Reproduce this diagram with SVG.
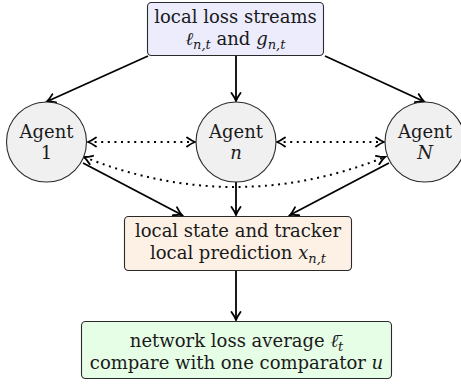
<svg xmlns="http://www.w3.org/2000/svg" width="461" height="384" viewBox="0 0 461 384">
<defs>
<style>
text{font-family:"DejaVu Serif","Liberation Serif",serif;font-size:18px;fill:#1a1a1a;text-anchor:middle}
.i{font-style:italic}
.s{font-size:13px;font-style:italic}
.box{stroke:#2a2a2a;stroke-width:1.1}
.ag{fill:#f0f0f0;stroke:#2a2a2a;stroke-width:1.1}
.ln{fill:none;stroke:#000;stroke-width:1.8}
.dt{fill:none;stroke:#000;stroke-width:2;stroke-dasharray:2 4.6}
</style>
<marker id="ah" viewBox="-9 -6 11 12" markerWidth="11" markerHeight="12" refX="0" refY="0" orient="auto-start-reverse" markerUnits="userSpaceOnUse">
<path d="M-8,-4.5 Q-3,-1 0,0 Q-3,1 -8,4.5" fill="none" stroke="#000" stroke-width="1.8" stroke-linecap="round"/>
</marker>
</defs>
<g id="connectors">
<path class="ln" d="M148,56 L47,101.5" marker-end="url(#ah)"/>
<path class="ln" d="M236,56 L236,101" marker-end="url(#ah)"/>
<path class="ln" d="M325,56 L424,101.5" marker-end="url(#ah)"/>
<path class="dt" d="M88,142 L195,142" marker-start="url(#ah)" marker-end="url(#ah)"/>
<path class="dt" d="M277,142 L384,142" marker-start="url(#ah)" marker-end="url(#ah)"/>
<path class="dt" d="M84,157 Q235,217 385,157" marker-start="url(#ah)" marker-end="url(#ah)"/>
<path class="ln" d="M83,163 L182,215" marker-end="url(#ah)"/>
<path class="ln" d="M236,182 L236,215" marker-end="url(#ah)"/>
<path class="ln" d="M389,163 L290,215" marker-end="url(#ah)"/>
<path class="ln" d="M236,271 L236,320" marker-end="url(#ah)"/>
</g>
<g id="streams">
<rect class="box" x="147.5" y="2.5" width="176" height="53" rx="4" fill="#ececfd"/>
<text x="235.5" y="23">local loss streams</text>
<text x="235.5" y="45"><tspan class="i">ℓ</tspan><tspan class="s" dy="4">n,t</tspan><tspan dy="-4"> and </tspan><tspan class="i">g</tspan><tspan class="s" dy="4">n,t</tspan></text>
</g>
<g id="agent1">
<circle class="ag" cx="46.5" cy="142" r="40"/>
<text x="46.5" y="138">Agent</text>
<text x="46.5" y="159">1</text>
</g>
<g id="agentn">
<circle class="ag" cx="236" cy="142" r="40"/>
<text x="236" y="138">Agent</text>
<text x="236" y="159" class="i">n</text>
</g>
<g id="agentN">
<circle class="ag" cx="425" cy="142" r="40"/>
<text x="425" y="138">Agent</text>
<text x="425" y="159" class="i">N</text>
</g>
<g id="tracker">
<rect class="box" x="124.5" y="216.5" width="227" height="54" rx="4" fill="#fdf0e5"/>
<text x="238" y="237">local state and tracker</text>
<text x="238" y="259">local prediction <tspan class="i">x</tspan><tspan class="s" dy="4">n,t</tspan></text>
</g>
<g id="network">
<rect class="box" x="81.5" y="321.5" width="310" height="57" rx="4" fill="#e6fde6"/>
<text x="236.5" y="347">network loss average <tspan class="i">ℓ̄</tspan><tspan class="s" dy="4">t</tspan></text>
<text x="236.5" y="369">compare with one comparator <tspan class="i">u</tspan></text>
</g>
</svg>
